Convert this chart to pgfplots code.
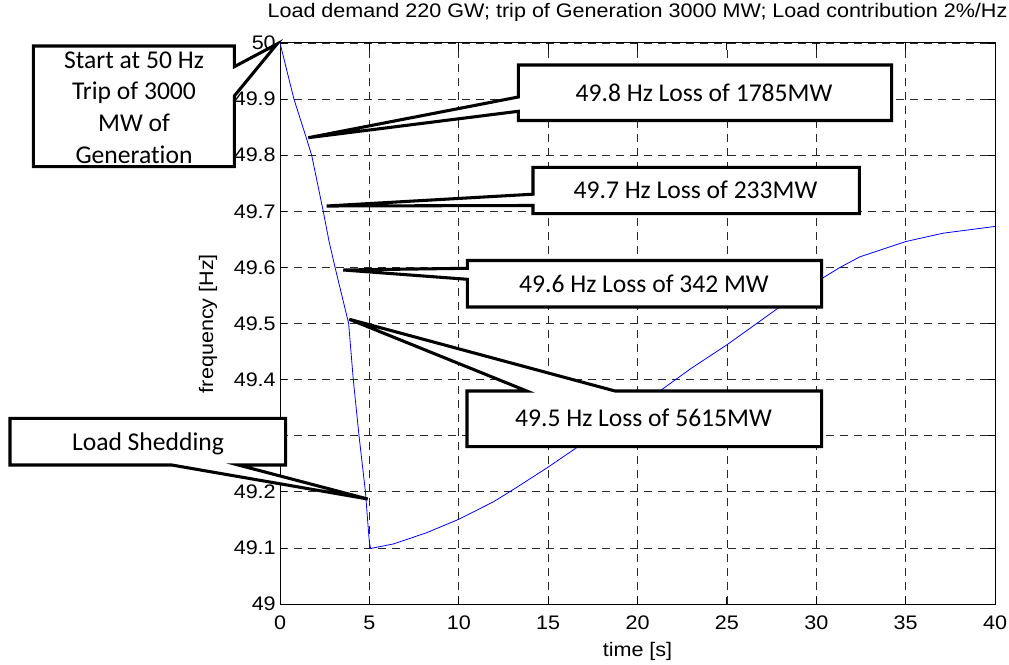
\documentclass[border=0pt]{standalone}
\usepackage{fontspec}
\setmainfont{Liberation Sans}[FakeStretch=1.1]
\newfontfamily\calibri{Carlito}[Ligatures={NoCommon}]
\usepackage{pgfplots}
\pgfplotsset{compat=1.18}

% frequency response after the generation trip (time in s, frequency in Hz)
\pgfplotstableread{
t     f
0     50
0.78  49.9
1.45  49.833
1.77  49.8
2.42  49.7
2.74  49.647
3.08  49.6
3.84  49.5
4.10  49.4
4.42  49.3
4.78  49.2
4.90  49.15
5.00  49.11
5.07  49.099
6.34  49.107
8.2   49.127
10    49.151
11.93 49.182
13    49.203
15    49.244
16.7  49.281
18    49.31
20    49.352
21.26 49.38
23    49.42
25    49.462
26.67 49.5
27.8  49.526
30    49.574
31.33 49.6
32.45 49.619
35    49.646
37.1  49.661
40    49.673
}\freqdata

\begin{document}
\begin{tikzpicture}
\useasboundingbox (0,0) rectangle (756.75pt,498pt);
\begin{axis}[
  at={(210pt,45pt)}, anchor=south west,
  scale only axis, width=536.25pt, height=420.75pt,
  xmin=0, xmax=40, ymin=49, ymax=50,
  xtick={0,5,10,15,20,25,30,35,40},
  ytick={49,49.1,49.2,49.3,49.4,49.5,49.6,49.7,49.8,49.9,50},
  yticklabels={49,49.1,49.2,49.3,49.4,49.5,49.6,49.7,49.8,49.9,50},
  /pgf/number format/assume math mode=true,
  tick label style={font=\fontsize{14.7}{17}\selectfont},
  xticklabel style={anchor=center, inner sep=0pt, yshift=-14.25pt},
  yticklabel style={anchor=east, inner sep=0pt, xshift=-3pt},
  tick align=inside, major tick length=5pt,
  tick style={black, line width=0.6pt},
  axis line style={black, line width=0.75pt},
  grid=major,
  major grid style={black!85, line width=0.55pt, dash pattern=on 6pt off 4.5pt},
  every axis title shift=0pt,
  title={Load demand 220 GW; trip of Generation 3000 MW; Load contribution 2\%/Hz},
  title style={at={(axis description cs:0.5,1.0553)}, anchor=center, inner sep=0pt,
    font=\fontsize{14.7}{17}\selectfont},
  xlabel={time [s]},
  xlabel style={at={(axis description cs:0.5,-0.0838)}, anchor=center, inner sep=0pt,
    font=\fontsize{14.7}{17}\selectfont},
  ylabel={frequency [Hz]},
  ylabel style={at={(axis description cs:-0.1007,0.5)}, anchor=center, inner sep=0pt,
    font=\fontsize{14.7}{17}\selectfont},
]
\addplot[color={rgb,255:red,0;green,0;blue,255}, line width=0.6pt] table[x=t, y=f] {\freqdata};
\end{axis}

% callouts, laid out in pixel units from the top-left corner
\begin{scope}[x=0.75pt, y=-0.75pt, shift={(0,498pt)},
    callout/.style={draw=black, fill=white, line width=2.3pt, line join=miter},
    ctext/.style={font=\calibri\fontsize{19.2}{23.75}\selectfont, anchor=base, inner sep=0pt}]
  \draw[callout] (33.3,46) -- (234.3,46) -- (234.3,66.7) -- (277,44) -- (234.3,96)
     -- (234.3,166.7) -- (33.3,166.7) -- cycle;
  \node[ctext] at (134,68.3) {Start at 50 Hz};
  \node[ctext] at (134,100) {Trip of 3000};
  \node[ctext] at (134,131.7) {MW of};
  \node[ctext] at (134,163.3) {Generation};

  \draw[callout] (518.3,65) -- (891.7,65) -- (891.7,120.5) -- (518.3,120.5)
     -- (518.3,111.3) -- (308.3,137.7) -- (518.3,97) -- cycle;
  \node[ctext] at (704,101.7) {49.8 Hz Loss of 1785MW};

  \draw[callout] (533,167.3) -- (859.3,167.3) -- (859.3,213.7) -- (533,213.7)
     -- (533,205.5) -- (326.7,206) -- (533,194.2) -- cycle;
  \node[ctext] at (695.5,198.3) {49.7 Hz Loss of 233MW};

  \draw[callout] (467.3,260.5) -- (821.7,260.5) -- (821.7,307) -- (467.3,307)
     -- (467.3,279.3) -- (343.3,270) -- (467.3,268.3) -- cycle;
  \node[ctext] at (644,292.5) {49.6 Hz Loss of 342 MW};

  \draw[callout] (467,391) -- (526.7,391) -- (349.3,319.3) -- (615,391)
     -- (821.7,391) -- (821.7,446.7) -- (467,446.7) -- cycle;
  \node[ctext] at (643.5,427) {49.5 Hz Loss of 5615MW};

  \draw[callout] (10,418.3) -- (285.7,418.3) -- (285.7,465) -- (238.3,465)
     -- (367.7,499) -- (171.7,465) -- (10,465) -- cycle;
  \node[ctext] at (148,451) {Load Shedding};
\end{scope}
\end{tikzpicture}
\end{document}
